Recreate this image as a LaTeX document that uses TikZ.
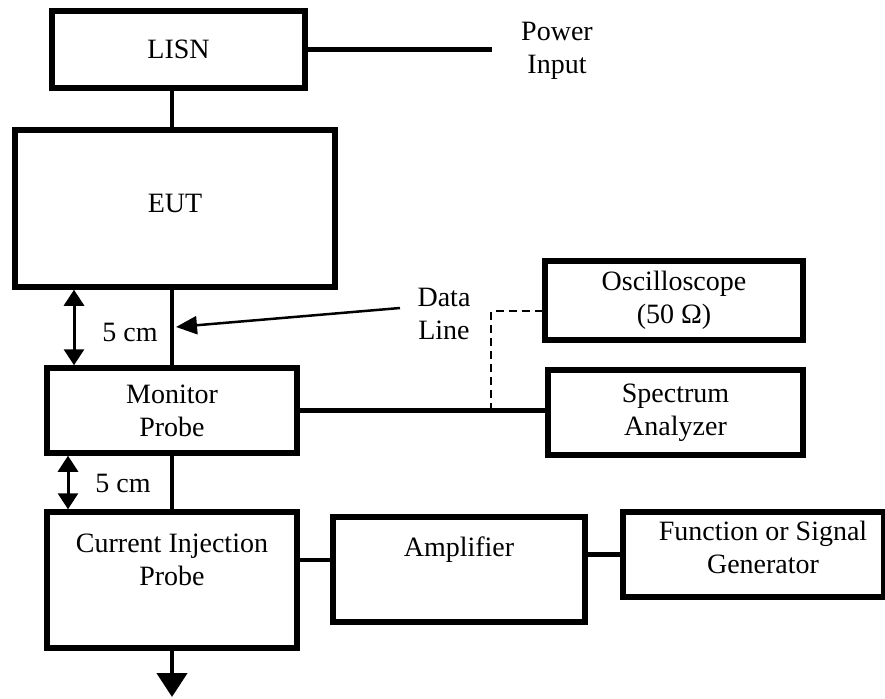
\documentclass[tikz,border=0pt]{standalone}
\usepackage{fontspec}
\setmainfont{Liberation Serif}
\usetikzlibrary{arrows.meta,calc}
\begin{document}
\begin{tikzpicture}[x=1pt,y=-1pt,
  box/.style={draw, line width=5.5pt, inner sep=0pt, align=center, font=\fontsize{28}{33}\selectfont},
  txt/.style={align=center, inner sep=0pt, font=\fontsize{28}{33}\selectfont},
  wire/.style={line width=4.5pt},
  dimarrow/.style={line width=3pt, {Triangle[width=20pt,length=16pt]}-{Triangle[width=20pt,length=16pt]}},
  pointer/.style={line width=2.5pt, -{Triangle[width=18pt,length=21pt]}},
  dashwire/.style={line width=2.5pt, dash pattern=on 8pt off 5pt},
  downarrow/.style={line width=4.5pt, -{Triangle[width=30pt,length=24pt]}}
]
\useasboundingbox (0,0) rectangle (885,698);

% boxes
\node[box, minimum width=253pt, minimum height=77pt] (lisn) at (178.5,49.5) {LISN};
\node[box, minimum width=320pt, minimum height=157pt] (eut) at (175,208.5) {};
\node[txt] (eutt) at (175,203) {EUT};
\node[box, minimum width=250pt, minimum height=85pt] (mon) at (172,410.5) {Monitor\\Probe};
\node[box, minimum width=250pt, minimum height=136pt] (ci) at (172,580) {};
\node[txt] (cit) at (172,560) {Current Injection\\Probe};
\node[box, minimum width=252pt, minimum height=105pt] (amp) at (459,569.5) {};
\node[txt] (ampt) at (459,550) {Amplifier};
\node[box, minimum width=261pt, minimum height=85pt] (func) at (753.5,554.5) {};
\node[txt] (funct) at (763,547.5) {Function or Signal\\Generator};
\node[box, minimum width=258pt, minimum height=79pt] (osc) at (674,300.5) {Oscilloscope\\(50 Ω)};
\node[box, minimum width=255pt, minimum height=85pt] (spec) at (675.5,412.5) {Spectrum\\Analyzer};

% free texts
\node[txt] (pwr) at (557,51) {Power\\Input};
\node[txt] (data) at (444,314) {Data\\Line};
\node[txt] (cm1) at (130,332) {5 cm};
\node[txt] (cm2) at (123,483) {5 cm};

% helper coordinates
\coordinate (pwrend) at (492,49.5);
\coordinate (ground) at (172,697);
\coordinate (d1) at (74,0);
\coordinate (d2) at (68,0);
\coordinate (dstart) at (400,308);
\coordinate (dend) at (176,327);
\coordinate (tap) at (491,0);
\coordinate (tap2) at (491,311);
\coordinate (ca) at (0,560);

% connectors
\draw[wire] (lisn.east) -- (pwrend);
\draw[wire] (lisn.south -| mon.north) -- (eut.north -| mon.north);
\draw[wire] (eut.south -| mon.north) -- (mon.north);
\draw[wire] (mon.south) -- (ci.north);
\draw[downarrow] (ci.south) -- (ground);
\draw[dimarrow] (eut.south -| d1) -- (mon.north -| d1);
\draw[dimarrow] (mon.south -| d2) -- (ci.north -| d2);
\draw[pointer] (dstart) -- (dend);
\draw[wire] (mon.east) -- (mon.east -| spec.west);
\draw[dashwire] (tap |- mon.east) -- (tap2) -- (tap2 -| osc.west);
\draw[wire] (ci.east |- ca) -- (amp.west |- ca);
\draw[wire] (amp.east |- func.west) -- (func.west);
\end{tikzpicture}
\end{document}
